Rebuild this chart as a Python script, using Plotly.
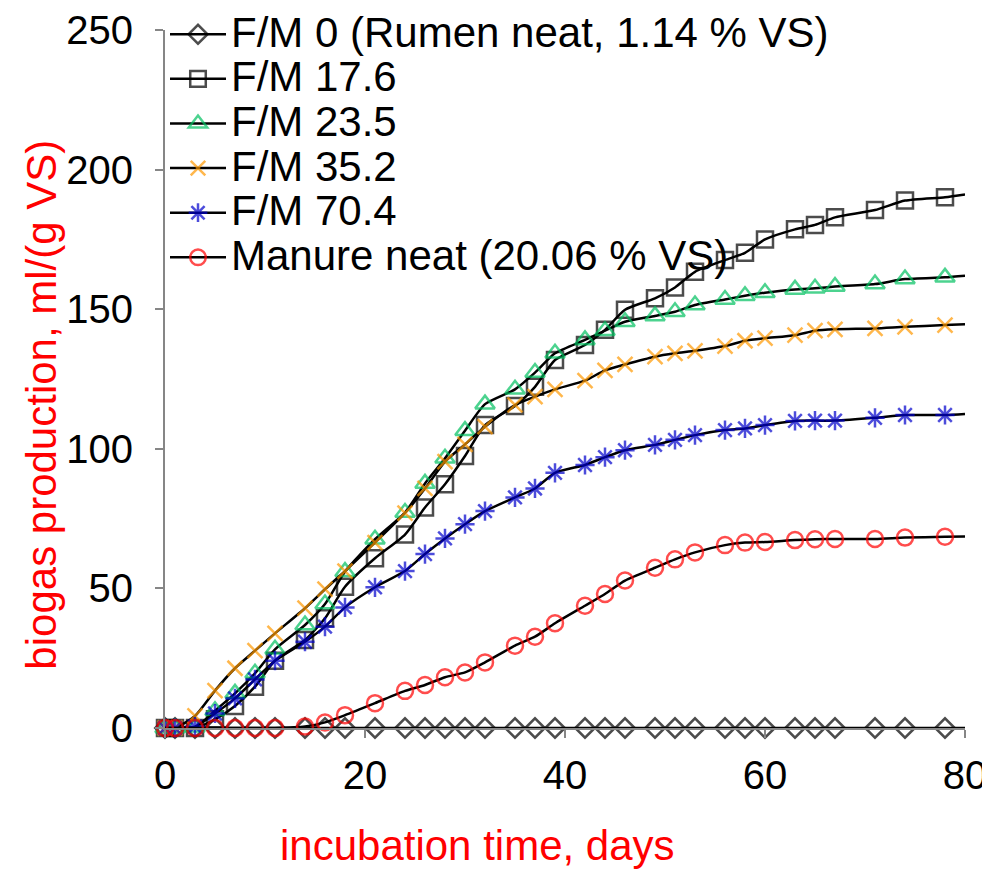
#!/usr/bin/env python3
# -*- coding: utf-8 -*-

import plotly.graph_objects as go

# incubation days (last entry = line end at the axis edge)
days = [0, 1, 3, 5, 7, 9, 11, 14, 16, 18, 21, 24, 26, 28, 30, 32, 35, 37,
        39, 42, 44, 46, 49, 51, 53, 56, 58, 60, 63, 65, 67, 71, 74, 78, 80]

rumen_neat = [0] * 35
fm_17_6 = [0, 0, 0, 3.1, 7.9, 14.8, 24.1, 31.5, 39.3, 50.6, 60.8, 69.3,
           79.0, 87.3, 97.4, 108.5, 115.3, 122.2, 131.8, 137.2, 142.6, 149.8,
           153.9, 157.8, 163.4, 167.6, 170.2, 175.0, 178.6, 180.2, 182.9,
           185.5, 188.9, 190.1, 191.1]
fm_23_5 = [0, 0, 0.3, 6.2, 12.4, 19.6, 28.2, 36.9, 44.4, 56.0, 67.6, 77.2,
           87.6, 96.6, 106.5, 116.0, 121.3, 127.3, 134.2, 139.0, 142.3, 145.5,
           147.6, 149.1, 151.5, 153.5, 154.8, 155.9, 157.1, 157.5, 158.1,
           159.0, 160.8, 161.4, 162.0]
fm_35_2 = [0, 0, 4.3, 13.4, 21.4, 27.7, 33.9, 42.9, 49.7, 56.2, 66.4, 77.0,
           85.8, 95.4, 101.6, 107.9, 115.7, 118.7, 121.3, 124.4, 128.1, 130.2,
           133.0, 134.2, 135.1, 136.8, 138.7, 139.6, 140.7, 142.3, 142.8,
           143.1, 143.7, 144.3, 144.6]
fm_70_4 = [0, 0, 0.5, 5.2, 10.6, 17.4, 24.1, 30.9, 36.3, 43.2, 50.4, 56.2,
           62.3, 67.9, 73.0, 77.7, 82.6, 85.8, 91.4, 94.2, 97.0, 99.5,
           101.4, 103.2, 104.9, 106.7, 107.3, 108.5, 110.0, 110.1, 110.1,
           111.1, 112.1, 112.1, 112.5]
manure_neat = [0, 0, 0, 0, 0, 0, 0, 0.5, 2.0, 4.6, 8.9, 13.3,
               15.4, 18.2, 19.9, 23.5, 29.5, 32.7, 37.5, 43.8, 48.0, 52.8,
               57.4, 60.4, 62.9, 65.5, 66.4, 66.6, 67.3, 67.6, 67.7,
               67.7, 68.2, 68.5, 68.6]

series_names = [
    "F/M 0 (Rumen neat, 1.14 % VS)",
    "F/M 17.6",
    "F/M 23.5",
    "F/M 35.2",
    "F/M 70.4",
    "Manure neat (20.06 % VS)",
]
series_values = [rumen_neat, fm_17_6, fm_23_5, fm_35_2, fm_70_4, manure_neat]

x_ticks = [0, 20, 40, 60, 80]
y_ticks = [0, 50, 100, 150, 200, 250]

FONT = "Liberation Sans, Arial, sans-serif"

# marker styles per series
STYLES = [
    {"symbol": "diamond-open", "color": "black", "size": 15},
    {"symbol": "square-open", "color": "black", "size": 16},
    {"symbol": "triangle-up-open", "color": "#00c060", "size": 17},
    {"symbol": "x-thin-open", "color": "#ff9900", "size": 15},
    {"symbol": "asterisk-open", "color": "#0000cc", "size": 16},
    {"symbol": "circle-open", "color": "#ff0000", "size": 16},
]


def add_series(fig: go.Figure, name: str, values: list, style: dict):
    # no marker on the final point (the line just runs to the axis edge)
    sizes = [style["size"]] * (len(values) - 1) + [0]
    fig.add_trace(
        go.Scatter(
            x=days,
            y=values,
            mode="lines+markers",
            name=f'<span style="font-size:42px">{name}</span>',
            line={"color": "black", "width": 2.5, "shape": "spline",
                  "smoothing": 0.6},
            marker={
                "symbol": style["symbol"],
                "size": sizes,
                "color": style["color"],
                "line": {"color": style["color"], "width": 2.5},
            },
            cliponaxis=False,
        )
    )


fig = go.Figure()
for name, values, style in zip(series_names, series_values, STYLES):
    add_series(fig, name, values, style)

# the page body adds an 8px margin, so everything sits 8px further in
fig.update_layout(
    width=982,
    height=864,
    margin={"l": 157, "r": 25, "t": 22, "b": 144, "autoexpand": False},
    paper_bgcolor="white",
    plot_bgcolor="white",
    font={"family": FONT, "size": 40, "color": "black"},
    showlegend=True,
    legend={
        "x": 0.0,
        "y": 1.033,
        "xanchor": "left",
        "yanchor": "top",
        "bgcolor": "rgba(0,0,0,0)",
        "font": {"size": 32},
        "itemwidth": 56,
        "tracegroupgap": 0,
    },
    annotations=[
        {
            "text": "incubation time, days",
            "xref": "paper", "yref": "paper",
            "x": 0.391, "y": -0.168,
            "xanchor": "center", "yanchor": "middle",
            "showarrow": False,
            "font": {"size": 42, "color": "red"},
        },
        {
            "text": "biogas production, ml/(g VS)",
            "xref": "paper", "yref": "paper",
            "x": -0.154, "y": 0.463,
            "xanchor": "center", "yanchor": "middle",
            "textangle": -90,
            "showarrow": False,
            "font": {"size": 42, "color": "red"},
        },
    ],
)

fig.update_xaxes(
    range=[0, 80],
    tickvals=x_ticks,
    automargin=False,
    showgrid=False,
    zeroline=False,
    showline=True,
    linecolor="#868686",
    linewidth=2,
    ticks="outside",
    ticklen=8,
    tickwidth=2,
    tickcolor="#868686",
    ticklabelstandoff=3,
    ticklabeloverflow="allow",
)
fig.update_yaxes(
    range=[0, 250],
    tickvals=y_ticks,
    automargin=False,
    showgrid=False,
    zeroline=False,
    showline=True,
    linecolor="#868686",
    linewidth=2,
    ticks="outside",
    ticklen=8,
    tickwidth=2,
    tickcolor="#868686",
    ticklabelstandoff=14,
)

fig.write_html("out.html")
